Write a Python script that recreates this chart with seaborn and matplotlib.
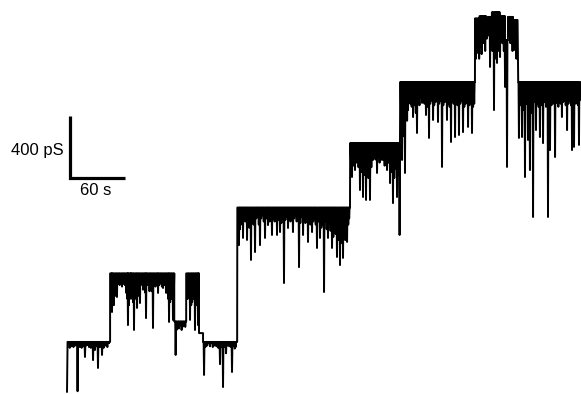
import numpy as np
import pandas as pd
import matplotlib
matplotlib.use("Agg")
import matplotlib.pyplot as plt
import seaborn as sns

# ---- data (time in s, conductance in pS) ----
trace_start_t = 0.0
trace_start_pS = 0.0

seg_start_s = [0.6, 47.0, 117.0, 130.0, 144.0, 148.4, 185.8, 308.9, 363.5, 445.1, 450.0, 457.1, 459.0, 463.5, 472.0, 477.8, 481.0, 486.5, 492.2]
seg_end_s   = [47.0, 117.0, 130.0, 144.0, 148.4, 185.6, 308.7, 363.3, 445.0, 450.0, 457.1, 459.0, 463.5, 472.0, 477.8, 481.0, 486.5, 491.5, 559.6]
seg_level_pS = [323, 765, 455, 765, 380, 323, 1190, 1606, 2000, 2410, 2425, 2350, 2420, 2450, 2425, 2271, 2420, 2400, 2000]
seg_band_pS  = [12, 15, 12, 15, 0, 12, 15, 18, 22, 40, 40, 30, 40, 40, 40, 25, 40, 40, 22]

# large closing events
spike_t = [11.5, 19.6, 22.9, 28.4, 30.5, 33.8, 38.2,
           49.1, 51.0, 54.5, 60.0, 66.5, 70.0, 73.1, 76.4, 79.6, 83.0, 86.2, 90.0,
           93.8, 96.5, 99.3, 104.7, 108.0, 111.3, 115.6,
           118.5, 122.0, 126.0,
           134.2, 139.6, 142.9,
           149.5, 166.9, 170.2, 173.5, 180.0, 183.0,
           187.6, 192.0, 196.4, 200.7, 205.1, 210.5, 216.0, 219.3, 223.6, 229.1, 232.4,
           236.7, 241.1, 246.5, 253.1, 257.5, 262.9, 267.3, 272.7, 276.0, 280.4, 284.7,
           289.1, 294.5, 297.8, 301.1, 305.5,
           310.9, 314.2, 319.6, 322.9, 326.2, 330.5, 333.8, 338.2, 343.6, 349.1, 352.4,
           355.6, 360.0, 362.8,
           365.5, 368.7, 372.0, 377.5, 381.8, 387.3, 391.6, 394.9, 399.3, 404.7, 409.1,
           414.5, 418.9, 423.3, 427.6, 432.0, 437.5, 441.8,
           447.3, 453.8, 461.5, 465.8, 469.1, 472.4, 477.9, 480.0, 483.3, 487.6,
           493.0, 496.4, 499.6, 502.9, 505.0, 508.4, 511.6, 515.9, 519.3, 524.7, 526.9,
           532.4, 534.5, 539.9, 545.5, 550.9, 553.1, 558.5]
spike_pS = [5, 226, 303, 206, 271, 155, 239,
            516, 560, 613, 680, 432, 620, 400, 542, 574, 660, 477, 650,
            413, 680, 639, 671, 640, 452, 465,
            239, 410, 420,
            465, 400, 432,
            110, 180, 32, 250, 129, 280,
            948, 994, 981, 852, 903, 948, 994, 1077, 1013, 1013, 1032,
            703, 1058, 1032, 806, 1013, 968, 1032, 929, 994, 645, 994,
            929, 871, 819, 865, 968,
            1387, 1432, 1303, 1258, 1239, 1239, 1497, 1413, 1497, 1432, 1348,
            1219, 1258, 1013,
            1497, 1413, 1819, 1774, 1671, 1865, 1787, 1639, 1755, 1742, 1452,
            1755, 1613, 1645, 1658, 1677, 1710, 1671,
            2187, 2271, 2097, 1819, 2123, 2161, 1968, 1452, 2252, 2206,
            1639, 1645, 1387, 1626, 1432, 1129, 1690, 1645, 1606, 1129, 1561,
            1516, 1865, 1774, 1690, 1561, 1581, 1594]

# brief flickers forming the dense band under each level
flicker_t = [3, 5, 7, 9, 14, 16, 18, 21, 24, 26, 32, 36, 40, 42, 44,
             48.5, 50, 52.5, 53.5, 56, 57.5, 59, 61.5, 63, 64.5, 66, 67.5, 68.5, 69.5, 71, 72,
             74.5, 75.5, 77.5, 78.5, 81, 82, 84.5, 85.5, 87.5, 89, 91, 92.5, 95, 97.5, 98.5,
             100.5, 102, 103.5, 106, 107, 109.5, 110.5, 112.5, 114, 116.5,
             119.5, 121, 123.5, 125, 127.5, 129,
             131.5, 132.5, 135.5, 136.5, 138, 140.5, 141.5, 143.5,
             151, 153, 156, 159, 161, 163, 165, 168, 172, 175, 177, 179, 182, 184,
             188.7, 189.8, 191, 193.2, 194.5, 197.5, 198.8, 202, 203.5, 206.5, 208, 209.2,
             211.8, 213, 214.6, 217.4, 218.5, 221, 222.3, 225, 226.5, 227.8, 230.5, 233.8,
             235, 238.2, 239.6, 242.5, 243.8, 245, 247.8, 249, 250.5, 251.8, 254.5, 256,
             258.8, 260, 261.5, 264.2, 265.6, 268.6, 270, 271.3, 274, 275, 277.4, 278.8,
             282, 283.3, 286, 287.5, 290.5, 291.8, 293, 295.8, 296.8, 299.3, 300.2, 302.5,
             303.6, 304.6, 306.8, 307.8,
             309.8, 312, 313, 315.5, 316.8, 318, 321, 324.5, 327.5, 328.8, 332, 335, 336.5,
             339.5, 341, 342.3, 345, 346.5, 347.8, 350.5, 353.8, 357, 358.5, 361.5,
             364.5, 366.5, 367.5, 370, 371, 373.2, 374.5, 376, 379, 380.5, 383, 384.5, 386,
             388.5, 390, 393, 396.2, 397.8, 400.6, 402, 403.4, 406, 407.5, 410.5, 412, 413.2,
             415.8, 417.4, 420.2, 421.8, 424.6, 426, 429, 430.5, 433.4, 435, 436.2, 439,
             440.4, 443, 444.2,
             446, 448.5, 449.6, 451, 452.3, 455, 456.2, 458, 460, 462.8, 464, 467.2, 468,
             470.5, 471.2, 473.6, 475, 476.5, 479, 482, 484.5, 486, 488.8, 490.2,
             494, 495, 497.8, 498.5, 501, 504, 506.5, 507.5, 510, 513, 514.5, 517.5, 518.3,
             521, 522.5, 523.6, 526, 528.5, 530, 531.2, 533.5, 536, 537.2, 538.5, 541,
             542.8, 544, 547, 548.5, 549.8, 552, 555.2, 556.6, 557.5, 559]
flicker_pS = [285, 295, 290, 300, 290, 285, 295, 300, 290, 285, 295, 290, 285, 300, 290,
              600, 580, 620, 650, 700, 690, 720, 700, 690, 640, 600, 560, 600, 650, 600, 580,
              620, 600, 650, 620, 700, 690, 700, 640, 690, 700, 690, 650, 700, 710, 700,
              690, 700, 680, 690, 710, 640, 600, 580, 600, 620,
              400, 420, 430, 400, 430, 420,
              600, 620, 560, 580, 600, 560, 600, 620,
              290, 300, 295, 290, 300, 295, 285, 290, 290, 300, 295, 290, 300, 290,
              1050, 1100, 1080, 1120, 1100, 1100, 1060, 1120, 1080, 1120, 1130, 1080,
              1120, 1140, 1100, 1120, 1140, 1100, 1130, 1120, 1100, 1130, 1110, 1090,
              1120, 1110, 1130, 1120, 1100, 1130, 1120, 1140, 1100, 1120, 1090, 1130,
              1120, 1090, 1100, 1120, 1080, 1100, 1120, 1080, 1100, 1120, 1060, 1080,
              1100, 1050, 1100, 1040, 1000, 1060, 1020, 980, 1040, 1000, 960, 1020,
              980, 1050, 1080, 1120,
              1480, 1500, 1460, 1480, 1520, 1450, 1420, 1400, 1420, 1380, 1450, 1540, 1500,
              1520, 1480, 1540, 1500, 1460, 1520, 1480, 1420, 1380, 1440, 1400,
              1700, 1650, 1750, 1820, 1750, 1880, 1860, 1840, 1850, 1800, 1880, 1850, 1900,
              1870, 1860, 1840, 1860, 1880, 1850, 1870, 1880, 1860, 1880, 1850, 1870, 1880,
              1860, 1840, 1870, 1860, 1880, 1850, 1860, 1880, 1840, 1860, 1880, 1850,
              1870, 1840, 1860,
              2150, 2200, 2150, 2230, 2180, 2250, 2200, 2280, 2300, 2250, 2200, 2250, 2150,
              2250, 2200, 2300, 2250, 2200, 2200, 2300, 2250, 2200, 2250, 2150,
              1870, 1850, 1880, 1820, 1860, 1840, 1800, 1850, 1870, 1860, 1840, 1880, 1850,
              1870, 1840, 1860, 1880, 1850, 1870, 1860, 1880, 1840, 1880, 1860, 1870,
              1880, 1850, 1860, 1880, 1850, 1870, 1860, 1880, 1850, 1880]

scale_pS = 400
scale_s = 60

# ---- build the trace ----
spike_half_width = 0.45
events = sorted(zip(spike_t + flicker_t, spike_pS + flicker_pS))
ts = [trace_start_t]
gs = [trace_start_pS]
for s, e, lv in zip(seg_start_s, seg_end_s, seg_level_pS):
    ts.append(s); gs.append(lv)
    for t, g in events:
        if s <= t < e:
            ts += [t - spike_half_width, t, t + spike_half_width]
            gs += [lv, g, lv]
    ts.append(e); gs.append(lv)
df = pd.DataFrame({"time_s": ts, "cond_pS": gs})

sns.set_style("white")
fig = plt.figure(figsize=(5.81, 3.94), dpi=100)
ax = fig.add_axes([0, 0, 1, 1])

for s, e, lv, b in zip(seg_start_s, seg_end_s, seg_level_pS, seg_band_pS):
    if b > 0:
        ax.fill_between([s, e], [lv - b, lv - b], [lv, lv], color="black", lw=0)

sns.lineplot(data=df, x="time_s", y="cond_pS", sort=False, estimator=None,
             color="black", lw=1.4, ax=ax)

# scale bar
x0, y0 = 3.3, 1381
ax.plot([x0, x0, x0 + scale_s], [y0 + scale_pS, y0, y0], color="black", lw=2.3,
        solid_joinstyle="miter", solid_capstyle="butt")
ax.text(-3.3, y0 + 180, f"{scale_pS} pS", ha="right", va="center", color="black",
        fontsize=12, family="Liberation Sans")
ax.text(x0 + scale_s / 2 - 2, y0 - 84, f"{scale_s} s", ha="center", va="center",
        color="black", fontsize=12, family="Liberation Sans")

ax.set_xlim(-73.1, 560.7)
ax.set_ylim(-12.9, 2529)
ax.set_axis_off()
ax.set_xlabel(""); ax.set_ylabel("")
fig.savefig("out.png", dpi=100, facecolor="white")
